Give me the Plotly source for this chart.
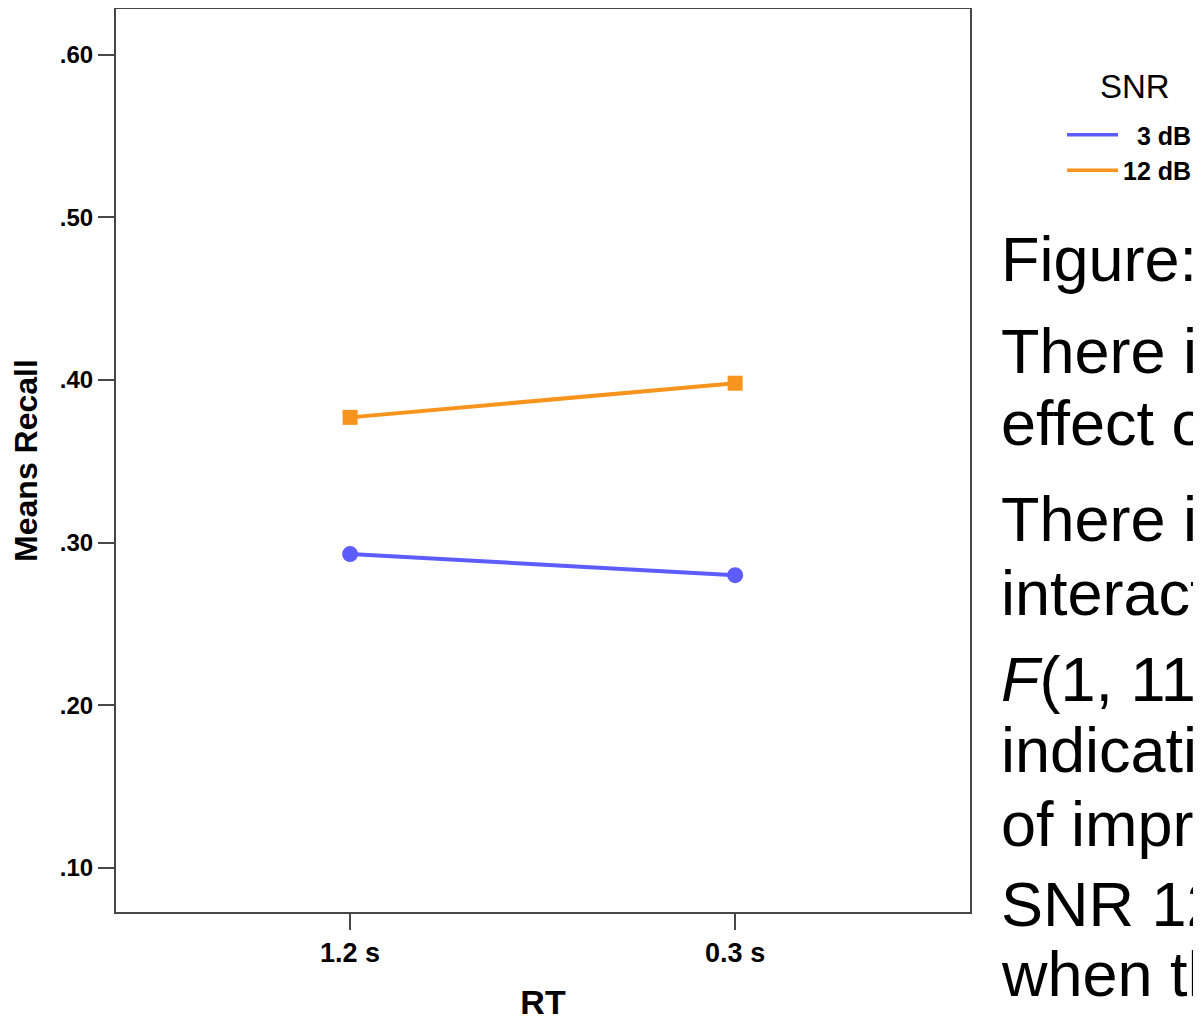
import plotly.graph_objects as go

# ---- data ----
rt_levels = ["1.2 s", "0.3 s"]
snr_levels = ["3 dB", "12 dB"]
recall_3db = [0.293, 0.280]
recall_12db = [0.377, 0.398]
y_tickvals = [0.10, 0.20, 0.30, 0.40, 0.50, 0.60]
y_ticktext = [".10", ".20", ".30", ".40", ".50", ".60"]
side_text = [
    "Figure:",
    "There is a",
    "effect of",
    "There is a",
    "interaction",
    "<i>F</i>(1, 11)",
    "indicating",
    "of improvement",
    "SNR 12 dB",
    "when the",
]
side_baselines = [281, 373, 445, 541, 615, 701, 772, 846, 926, 996]

# ---- style ----
OFF = 8  # page body margin
W, H = 1201 - OFF, 1021 - OFF
L, R, T, B = 116 - OFF, 970 - OFF, 9 - OFF, 912 - OFF
FONT = "Liberation Sans, Arial, sans-serif"
BLUE = "#5c5cff"
ORANGE = "#f7941d"
AX = "#474747"


def px_x(px):
    return (px - OFF - L) / (R - L)


def px_y(py):
    return (B - (py - OFF)) / (B - T)


fig = go.Figure()
fig.add_trace(go.Scatter(
    x=rt_levels, y=recall_3db, mode="lines+markers", showlegend=False,
    line=dict(color=BLUE, width=4),
    marker=dict(symbol="circle", size=16, color=BLUE),
))
fig.add_trace(go.Scatter(
    x=rt_levels, y=recall_12db, mode="lines+markers", showlegend=False,
    line=dict(color=ORANGE, width=4),
    marker=dict(symbol="square", size=15, color=ORANGE),
))
# legend keys (lines only)
for name, col in zip(snr_levels, [BLUE, ORANGE]):
    label = ("&nbsp;&nbsp;" + name) if name == "3 dB" else name
    fig.add_trace(go.Scatter(
        x=[None], y=[None], mode="lines", name=label,
        line=dict(color=col, width=3.5),
    ))

# legend title
fig.add_annotation(
    x=px_x(1135), y=px_y(97 - 11), xref="paper", yref="paper",
    xanchor="center", yanchor="middle", text="SNR", showarrow=False,
    font=dict(family=FONT, size=33, color="black"),
)

for txt, base in zip(side_text, side_baselines):
    fig.add_annotation(
        x=px_x(999), y=px_y(base - 22), xref="paper", yref="paper",
        xanchor="left", yanchor="middle", text=txt, showarrow=False,
        font=dict(family=FONT, size=63, color="black"), align="left",
    )

fig.update_layout(
    width=W, height=H,
    margin=dict(l=L, r=W - R, t=T, b=H - B, autoexpand=False),
    paper_bgcolor="white", plot_bgcolor="white",
    font=dict(family=FONT, color="black"),
    legend=dict(
        x=px_x(1062), y=px_y(112), xanchor="left", yanchor="top",
        xref="paper", yref="paper",
        font=dict(family=FONT, size=25, color="black", weight="bold"),
        itemwidth=51, bgcolor="rgba(0,0,0,0)", tracegroupgap=0,
    ),
    xaxis=dict(
        type="category", range=[-0.608, 1.610],
        showline=True, linecolor=AX, linewidth=2, mirror=True,
        showgrid=False, zeroline=False,
        ticks="outside", ticklen=16, tickwidth=1.5, tickcolor=AX,
        tickfont=dict(family=FONT, size=27, color="black", weight="bold"),
        title=dict(text="RT", standoff=27,
                   font=dict(family=FONT, size=34, color="black", weight="bold")),
    ),
    yaxis=dict(
        range=[0.073, 0.628],
        tickvals=y_tickvals, ticktext=y_ticktext,
        showline=True, linecolor=AX, linewidth=2, mirror=True,
        showgrid=False, zeroline=False,
        ticks="outside", ticklen=16, tickwidth=2, tickcolor=AX,
        tickfont=dict(family=FONT, size=24, color="black", weight="bold"),
        title=dict(text="Means Recall", standoff=25,
                   font=dict(family=FONT, size=32, color="black", weight="bold")),
    ),
)

fig.write_html("out.html")
